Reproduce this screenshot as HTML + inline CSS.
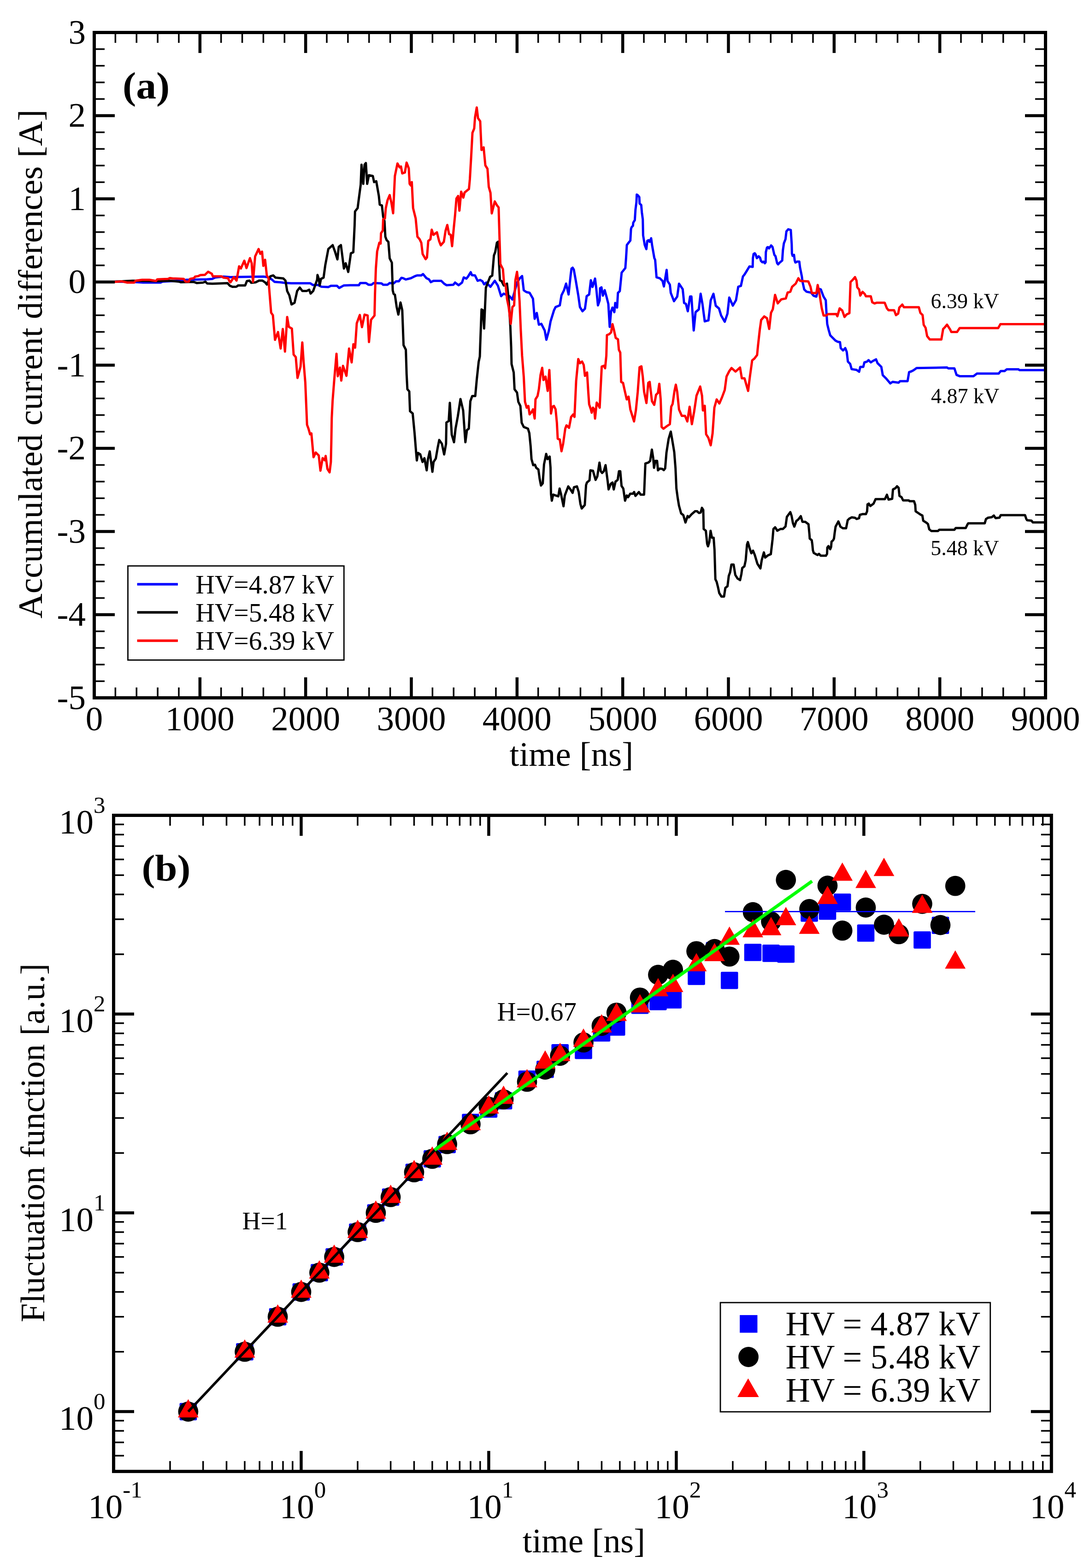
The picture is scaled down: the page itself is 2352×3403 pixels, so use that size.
<!DOCTYPE html><html><head><meta charset="utf-8"><style>html,body{margin:0;padding:0;background:#fff;}svg{display:block;}</style></head><body><svg width="2352" height="3403" viewBox="0 0 2352 3403">
<rect x="0" y="0" width="2352" height="3403" fill="#fff"/>
<path d="M249.0,611.2 L294.2,612.2 L310.3,613.2 L348.4,613.2 L352.4,611.2 L388.5,609.2 L404.5,607.2 L448.6,606.2 L460.7,605.2 L466.7,602.2 L484.7,600.2 L500.0,601.5 L571.4,600.2 L580.8,601.5 L588.3,605.3 L595.9,611.8 L609.0,612.8 L616.5,613.7 L631.6,614.7 L672.9,614.7 L678.6,618.4 L689.8,618.4 L697.4,622.2 L712.4,623.1 L718.0,620.3 L731.2,620.3 L735.9,625.0 L746.2,619.4 L760.0,618.9 L778.8,618.9 L781.6,614.2 L793.8,614.2 L799.5,617.9 L806.1,617.9 L810.8,614.2 L827.7,615.1 L831.4,617.9 L840.8,617.9 L845.5,614.2 L854.0,615.1 L859.6,610.4 L865.3,610.4 L870.9,602.9 L874.7,603.8 L880.3,606.6 L891.6,603.8 L901.0,599.1 L904.7,597.8 L914.1,597.8 L917.9,594.8 L925.4,603.8 L931.0,606.6 L934.8,612.3 L940.5,609.5 L957.4,609.5 L963.0,615.1 L968.6,618.9 L983.7,617.9 L987.4,613.2 L995.0,618.9 L1002.5,613.2 L1006.2,602.0 L1011.9,604.8 L1015.6,600.1 L1021.3,590.7 L1024.1,597.3 L1030.7,597.8 L1036.3,609.5 L1042.0,607.6 L1046.7,610.4 L1050.4,617.0 L1055.1,613.2 L1064.2,622.4 L1073.5,609.4 L1080.1,619.6 L1087.3,642.8 L1092.7,637.3 L1105.5,642.8 L1111.8,650.0 L1121.8,613.7 L1127.3,604.6 L1132.8,599.1 L1136.4,630.0 L1141.9,633.7 L1149.1,635.5 L1156.4,648.2 L1160.1,691.9 L1164.6,679.2 L1169.2,704.6 L1174.6,702.8 L1181.9,717.4 L1185.5,737.4 L1191.0,717.4 L1194.6,697.4 L1201.9,673.7 L1205.5,666.4 L1214.6,662.8 L1218.3,640.9 L1223.7,630.0 L1228.3,615.5 L1233.7,639.1 L1238.3,596.0 L1240.0,583.0 L1242.5,581.0 L1245.0,585.0 L1249.2,608.2 L1254.7,640.9 L1258.3,666.4 L1263.8,675.5 L1269.2,670.1 L1272.9,642.8 L1278.3,639.1 L1282.0,608.2 L1285.6,622.8 L1291.1,604.6 L1293.8,626.4 L1297.4,662.8 L1301.1,651.9 L1302.0,625.7 L1305.0,623.7 L1308.0,641.6 L1312.0,629.7 L1315.9,643.6 L1319.9,659.5 L1322.9,709.4 L1325.9,675.5 L1328.9,667.5 L1332.9,677.5 L1334.9,657.6 L1338.9,667.5 L1340.8,635.6 L1344.8,631.7 L1348.8,591.8 L1356.8,581.8 L1358.4,560.0 L1360.1,531.7 L1362.2,528.9 L1367.7,522.0 L1369.1,497.0 L1370.5,492.9 L1373.3,490.1 L1374.0,483.2 L1377.4,477.6 L1378.8,455.4 L1380.9,438.8 L1381.6,422.2 L1384.4,424.3 L1387.1,427.7 L1387.8,441.6 L1391.3,445.0 L1392.7,461.0 L1394.7,476.2 L1395.4,510.9 L1398.9,531.7 L1402.4,540.7 L1404.4,522.7 L1407.2,521.3 L1409.6,524.7 L1412.8,517.1 L1414.8,531.7 L1419.7,560.0 L1421.5,563.9 L1424.5,601.8 L1431.5,603.8 L1437.5,609.7 L1440.5,621.7 L1446.4,585.8 L1448.4,609.7 L1453.4,617.7 L1455.4,635.6 L1462.4,653.6 L1469.4,643.6 L1473.3,615.7 L1481.3,627.7 L1484.3,657.6 L1488.3,659.5 L1492.3,675.5 L1497.3,643.6 L1500.2,643.6 L1505.2,717.3 L1509.2,677.5 L1516.2,671.5 L1520.2,637.6 L1524.1,659.5 L1529.1,697.4 L1537.1,695.4 L1542.1,651.6 L1548.0,637.6 L1553.0,663.5 L1560.0,669.5 L1564.7,684.7 L1572.5,698.3 L1578.4,680.8 L1582.3,645.7 L1590.1,663.3 L1596.9,651.6 L1601.8,622.4 L1607.6,620.4 L1612.0,600.0 L1615.0,596.3 L1620.0,588.3 L1626.1,578.3 L1633.1,579.3 L1633.6,560.3 L1635.1,551.2 L1637.6,549.7 L1639.6,552.2 L1642.1,560.3 L1646.1,556.2 L1649.1,559.2 L1651.1,566.3 L1654.1,569.3 L1656.6,567.8 L1659.6,571.3 L1661.2,569.3 L1661.7,547.2 L1664.2,537.2 L1666.2,536.2 L1668.7,539.2 L1673.2,532.7 L1676.2,536.2 L1680.2,553.2 L1682.7,556.2 L1686.2,571.3 L1688.2,573.8 L1691.2,570.3 L1697.2,565.3 L1698.7,543.2 L1700.8,528.2 L1704.3,519.1 L1706.3,502.1 L1710.3,497.6 L1715.8,499.1 L1717.8,530.2 L1718.3,550.2 L1719.8,555.2 L1722.8,553.2 L1724.3,565.3 L1725.8,569.8 L1729.3,567.8 L1734.3,567.8 L1735.8,580.3 L1739.8,600.0 L1741.1,610.7 L1745.0,628.2 L1749.9,633.1 L1759.6,635.0 L1765.4,641.8 L1771.3,643.8 L1775.2,626.3 L1781.0,628.2 L1786.9,643.8 L1791.7,651.6 L1793.3,680.6 L1794.9,703.4 L1798.1,716.4 L1801.4,727.8 L1806.3,732.7 L1812.8,739.2 L1817.7,741.7 L1822.6,742.5 L1824.2,755.5 L1829.1,760.4 L1834.0,755.5 L1837.2,763.6 L1839.7,784.8 L1844.6,789.7 L1847.8,801.1 L1858.4,802.7 L1864.1,806.8 L1866.6,796.2 L1873.1,796.2 L1875.5,786.5 L1881.2,784.8 L1884.5,781.6 L1889.4,786.5 L1894.3,783.2 L1900.8,779.9 L1904.0,788.1 L1912.2,796.2 L1915.4,814.2 L1922.0,820.7 L1931.7,832.1 L1936.6,828.8 L1949.7,830.4 L1952.9,827.2 L1969.2,827.2 L1972.5,807.6 L1977.4,806.0 L1982.2,803.6 L1988.8,798.7 L2054.8,797.6 L2057.7,799.5 L2070.8,799.5 L2073.6,808.0 L2075.5,813.6 L2082.1,816.4 L2112.2,816.4 L2119.7,810.8 L2166.7,810.8 L2171.4,805.2 L2179.8,805.2 L2184.5,801.4 L2209.9,801.4 L2211.8,803.3 L2266.0,803.3" fill="none" stroke="#0000ff" stroke-width="5" stroke-linejoin="round" stroke-linecap="butt"/>
<path d="M249.0,611.2 L288.2,609.2 L340.4,610.2 L368.4,609.2 L388.5,611.2 L392.5,612.6 L400.5,612.2 L420.5,611.8 L426.6,614.2 L440.6,613.2 L445.6,611.2 L449.6,615.2 L460.7,615.8 L493.7,614.6 L498.7,620.2 L504.8,622.6 L512.8,622.2 L516.9,619.4 L532.0,619.4 L535.7,610.0 L541.4,609.0 L545.1,613.7 L554.5,612.8 L562.0,609.0 L569.5,609.0 L575.2,612.8 L578.9,617.5 L582.7,609.0 L586.5,599.6 L593.0,597.7 L597.7,602.4 L614.7,604.3 L619.4,609.0 L623.1,631.6 L627.8,641.0 L632.5,660.7 L639.1,657.0 L644.7,631.6 L650.4,624.1 L656.0,631.6 L665.4,631.6 L671.0,628.8 L673.9,637.2 L679.5,631.6 L688.0,607.1 L688.9,596.8 L691.7,605.3 L693.6,619.4 L696.4,605.3 L702.1,602.4 L705.8,575.2 L712.4,540.4 L721.8,532.0 L726.5,545.1 L732.1,563.0 L735.0,535.7 L739.7,532.0 L746.2,582.7 L750.0,571.4 L755.6,590.2 L761.3,549.8 L766.6,547.4 L769.4,489.2 L770.3,459.1 L776.0,451.6 L777.9,436.5 L782.6,400.8 L784.4,357.6 L788.2,399.0 L791.0,357.6 L793.8,353.8 L796.7,399.0 L800.4,380.2 L808.9,382.0 L811.7,395.2 L816.4,393.3 L822.0,425.3 L823.9,444.1 L828.6,445.9 L831.4,470.4 L834.2,479.8 L836.1,513.6 L838.9,521.1 L842.7,524.9 L845.5,560.6 L850.2,570.0 L852.1,630.2 L854.0,637.7 L856.8,639.6 L860.6,665.9 L864.3,682.8 L869.0,656.5 L872.8,673.4 L875.6,749.1 L880.6,759.0 L882.2,811.7 L883.9,844.6 L888.0,849.5 L889.6,892.3 L895.4,897.3 L899.5,940.1 L902.8,981.2 L904.4,999.3 L906.9,982.9 L911.9,986.2 L916.8,1002.6 L920.9,994.4 L925.8,1020.7 L928.3,997.7 L932.4,979.6 L938.2,1024.0 L940.7,1002.6 L945.6,995.2 L949.7,971.4 L953.0,954.9 L958.8,963.1 L963.7,986.2 L967.8,963.1 L968.6,917.0 L973.6,913.7 L976.0,874.2 L978.5,915.4 L980.2,943.4 L985.1,959.8 L988.4,930.2 L993.3,903.9 L999.1,866.0 L1004.9,890.7 L1008.1,936.8 L1009.8,959.8 L1013.1,933.5 L1017.2,930.2 L1020.5,870.9 L1024.6,859.4 L1031.2,859.4 L1034.5,823.2 L1038.6,785.3 L1041.1,773.8 L1041.9,749.1 L1044.8,671.5 L1047.6,673.4 L1050.4,712.9 L1054.2,624.5 L1059.6,610.3 L1063.3,601.0 L1068.0,598.2 L1071.7,554.4 L1074.5,547.0 L1078.2,526.5 L1081.0,524.7 L1082.9,573.1 L1084.7,608.4 L1088.4,610.3 L1093.1,619.6 L1098.7,617.7 L1100.0,615.5 L1103.7,650.0 L1107.3,708.3 L1109.1,753.8 L1110.0,790.1 L1114.6,808.3 L1116.4,844.7 L1121.8,852.0 L1124.6,872.0 L1129.1,881.1 L1131.9,917.5 L1136.4,926.6 L1145.5,930.2 L1148.5,940.0 L1151.3,968.2 L1153.2,996.4 L1156.9,1009.5 L1160.7,1008.6 L1163.5,1015.2 L1168.2,1019.0 L1171.0,1039.6 L1173.8,1053.7 L1177.6,1049.0 L1180.4,1007.7 L1185.1,985.1 L1187.9,996.4 L1192.6,990.8 L1194.5,1015.2 L1195.5,1071.6 L1197.3,1086.6 L1200.2,1073.5 L1205.8,1075.3 L1211.4,1077.2 L1214.2,1060.3 L1217.1,1071.6 L1222.7,1098.8 L1225.5,1075.3 L1228.3,1067.8 L1233.0,1055.6 L1237.7,1062.2 L1242.4,1069.7 L1245.3,1057.5 L1251.8,1055.6 L1255.6,1067.8 L1259.4,1094.1 L1262.2,1103.5 L1268.8,1096.0 L1271.6,1052.8 L1273.5,1047.1 L1279.1,1042.4 L1281.0,1020.8 L1286.6,1021.8 L1292.3,1041.5 L1296.0,1034.0 L1300.7,1003.9 L1303.5,1022.7 L1306.4,1026.5 L1310.1,1022.7 L1313.9,1009.5 L1318.6,1045.3 L1320.5,1062.2 L1325.2,1050.0 L1328.9,1047.1 L1331.7,1062.2 L1335.5,1045.3 L1340.2,1041.5 L1343.0,1022.7 L1345.8,1022.7 L1348.6,1054.7 L1352.4,1060.3 L1356.2,1086.6 L1359.9,1075.3 L1362.7,1079.1 L1367.4,1071.6 L1373.1,1071.6 L1375.9,1067.8 L1378.7,1076.3 L1386.2,1067.8 L1390.0,1073.5 L1397.5,1073.5 L1400.3,1005.8 L1406.9,1003.9 L1410.7,1000.2 L1414.4,975.7 L1417.3,994.5 L1419.1,1015.2 L1421.9,1000.2 L1425.7,1000.2 L1427.6,1020.8 L1431.4,1017.1 L1436.6,1017.5 L1440.3,1020.3 L1443.2,1016.5 L1446.0,982.7 L1450.7,952.6 L1455.4,936.7 L1458.2,952.6 L1462.9,980.8 L1465.7,1016.5 L1467.6,1059.8 L1470.4,1080.5 L1473.2,1097.4 L1477.9,1114.3 L1482.6,1118.0 L1487.3,1134.0 L1492.0,1119.9 L1494.8,1122.7 L1500.5,1116.2 L1508.0,1109.6 L1512.7,1109.6 L1516.5,1113.3 L1520.2,1112.4 L1523.0,1102.1 L1525.9,1106.8 L1526.8,1148.1 L1531.5,1151.9 L1534.3,1180.1 L1536.2,1185.7 L1539.0,1176.3 L1541.8,1151.9 L1544.7,1166.9 L1548.4,1166.9 L1550.3,1193.2 L1552.2,1257.1 L1555.0,1262.8 L1557.8,1274.1 L1560.6,1287.2 L1565.3,1294.7 L1571.0,1294.7 L1573.8,1275.9 L1578.5,1272.2 L1581.3,1249.6 L1584.1,1242.1 L1587.0,1225.2 L1591.7,1225.2 L1595.4,1247.7 L1600.1,1255.3 L1605.8,1259.0 L1608.6,1245.9 L1610.5,1232.7 L1615.2,1229.0 L1618.0,1215.8 L1620.8,1182.0 L1622.7,1176.3 L1626.4,1189.5 L1630.2,1200.8 L1633.9,1195.1 L1637.7,1204.5 L1643.3,1223.3 L1649.9,1233.6 L1652.7,1215.8 L1657.4,1198.9 L1660.3,1210.2 L1665.9,1205.5 L1672.5,1202.6 L1676.2,1170.7 L1678.1,1148.1 L1681.9,1144.4 L1686.6,1151.9 L1693.2,1148.1 L1698.8,1148.1 L1704.4,1142.5 L1707.3,1121.8 L1714.8,1111.5 L1717.6,1119.9 L1720.4,1135.0 L1723.5,1143.0 L1727.9,1130.7 L1732.3,1127.2 L1737.5,1120.2 L1741.1,1132.5 L1747.2,1132.5 L1754.2,1137.7 L1756.3,1160.0 L1756.9,1168.8 L1761.3,1172.5 L1762.6,1181.9 L1763.8,1194.5 L1765.7,1200.1 L1773.8,1204.5 L1777.0,1202.0 L1780.7,1206.1 L1792.0,1206.1 L1794.5,1202.0 L1795.1,1188.2 L1797.6,1185.1 L1801.4,1192.0 L1803.3,1186.9 L1804.2,1175.7 L1807.7,1172.5 L1809.5,1168.8 L1811.2,1155.3 L1813.0,1143.0 L1819.1,1131.6 L1823.5,1143.0 L1828.8,1146.5 L1835.8,1146.5 L1839.3,1128.9 L1842.8,1125.4 L1848.1,1122.8 L1855.1,1123.7 L1858.6,1126.3 L1863.9,1124.6 L1865.6,1117.5 L1870.9,1115.8 L1878.8,1115.8 L1881.4,1109.6 L1882.3,1094.7 L1884.9,1093.0 L1888.4,1098.2 L1895.4,1093.0 L1899.8,1083.3 L1920.0,1083.3 L1924.4,1073.7 L1927.9,1084.2 L1935.8,1082.5 L1937.5,1062.3 L1942.8,1059.6 L1946.3,1055.3 L1949.8,1058.8 L1951.6,1076.3 L1956.0,1078.9 L1959.5,1086.0 L1971.8,1086.0 L1973.5,1087.7 L1983.2,1087.7 L1985.8,1095.6 L1986.7,1109.6 L1992.0,1113.2 L1997.5,1116.9 L2001.3,1118.8 L2003.2,1130.1 L2010.7,1134.8 L2013.5,1137.6 L2016.3,1148.9 L2021.0,1152.6 L2035.1,1152.6 L2037.9,1149.8 L2070.8,1149.8 L2073.6,1146.1 L2095.3,1146.1 L2099.0,1138.5 L2100.9,1135.7 L2136.6,1135.7 L2139.4,1126.3 L2144.1,1123.5 L2151.7,1122.6 L2156.4,1118.8 L2160.1,1124.4 L2168.6,1123.5 L2171.4,1117.9 L2224.0,1117.9 L2226.8,1126.3 L2228.7,1129.1 L2238.1,1130.1 L2240.9,1133.8 L2266.0,1133.8" fill="none" stroke="#000000" stroke-width="5" stroke-linejoin="round" stroke-linecap="butt"/>
<path d="M249.1,611.8 L264.2,610.6 L276.2,613.2 L291.2,613.2 L294.2,609.2 L308.3,607.2 L324.3,607.2 L338.3,609.8 L341.4,606.2 L364.4,605.2 L368.4,603.6 L374.4,604.2 L398.5,605.2 L402.5,611.2 L409.5,611.2 L412.5,605.2 L420.5,603.8 L423.6,600.2 L430.6,599.1 L434.6,597.1 L444.6,596.5 L451.6,589.7 L459.6,594.1 L461.7,599.7 L480.7,599.7 L484.7,602.6 L494.7,603.8 L498.7,611.8 L500.0,612.8 L507.5,601.5 L513.2,609.0 L518.8,578.0 L522.6,582.7 L530.1,565.8 L534.8,581.8 L542.3,560.2 L546.1,571.4 L548.9,611.8 L553.6,556.4 L561.1,540.4 L564.8,550.8 L568.6,546.1 L571.4,577.1 L575.2,563.9 L578.9,597.7 L582.7,604.3 L583.6,620.3 L588.3,678.6 L592.1,684.2 L596.7,737.6 L603.2,720.7 L608.9,756.4 L613.6,714.1 L618.3,763.0 L623.1,688.0 L626.7,709.4 L633.3,713.2 L637.1,769.5 L641.8,775.2 L645.5,820.3 L652.1,795.9 L655.9,743.2 L658.7,784.6 L662.4,829.7 L666.2,921.8 L669.0,929.3 L672.8,942.5 L675.6,940.6 L680.3,992.3 L685.0,982.0 L691.6,988.5 L695.3,1021.4 L700.0,994.2 L704.7,998.9 L706.6,989.5 L710.4,1017.7 L715.1,1025.2 L717.9,1002.6 L718.8,963.2 L719.8,906.8 L721.7,869.2 L725.4,822.2 L730.1,767.7 L732.9,816.5 L737.6,797.7 L740.5,825.9 L744.2,794.0 L751.7,815.6 L757.4,756.4 L763.0,786.5 L766.8,747.0 L770.5,754.5 L774.1,701.6 L780.7,683.7 L785.4,710.0 L791.0,682.8 L797.6,684.7 L800.6,742.3 L805.1,694.0 L812.6,684.7 L813.6,639.6 L815.5,583.2 L818.3,545.6 L823.0,526.8 L825.8,528.6 L826.7,506.1 L830.5,500.5 L831.4,476.0 L835.2,474.1 L837.1,451.6 L840.8,434.7 L845.5,423.4 L849.3,440.3 L853.0,462.9 L856.8,382.0 L862.4,354.8 L867.1,363.2 L870.0,361.4 L872.8,376.4 L878.4,374.5 L882.2,352.9 L886.9,365.1 L888.8,398.9 L891.6,402.7 L893.5,395.2 L896.3,451.6 L901.9,474.1 L905.7,513.6 L910.4,519.2 L914.1,526.8 L917.0,551.2 L923.5,562.5 L926.4,558.7 L929.2,523.0 L933.9,519.2 L936.7,498.6 L940.5,509.8 L948.0,504.2 L952.7,523.0 L956.4,532.4 L963.0,524.9 L966.8,500.5 L970.5,488.2 L974.3,508.0 L978.0,509.8 L980.9,534.3 L984.6,494.8 L987.4,466.6 L990.3,430.9 L994.0,425.3 L996.8,457.2 L1000.6,415.9 L1005.3,429.0 L1008.1,417.7 L1017.5,410.2 L1019.5,388.7 L1022.3,340.3 L1025.1,288.2 L1028.9,278.9 L1030.7,254.7 L1034.4,233.3 L1037.2,256.5 L1041.9,263.1 L1044.7,325.4 L1049.3,319.8 L1053.1,358.9 L1057.7,366.4 L1060.5,405.5 L1064.2,418.5 L1067.0,463.2 L1069.8,452.0 L1073.5,437.1 L1078.2,445.5 L1081.9,450.2 L1083.8,515.3 L1085.6,573.1 L1091.2,584.2 L1093.6,613.7 L1097.3,620.9 L1100.0,648.2 L1103.7,666.4 L1108.2,702.8 L1111.8,666.4 L1115.5,662.8 L1118.2,608.2 L1121.8,590.0 L1124.6,613.7 L1127.3,653.7 L1130.0,717.4 L1132.8,772.0 L1136.4,817.4 L1139.1,872.0 L1142.8,884.8 L1146.4,881.1 L1149.1,899.3 L1153.7,893.9 L1156.4,888.4 L1160.1,908.4 L1161.9,866.6 L1166.4,859.3 L1169.2,844.7 L1172.8,813.8 L1176.4,798.3 L1179.2,824.7 L1183.7,817.4 L1188.3,848.4 L1191.9,802.9 L1193.7,841.1 L1195.5,897.5 L1198.3,882.9 L1201.9,881.1 L1205.5,888.4 L1208.3,917.5 L1210.1,952.1 L1214.6,953.9 L1218.3,979.4 L1221.9,963.0 L1226.5,930.2 L1229.2,923.0 L1234.7,928.4 L1239.2,904.8 L1243.8,899.3 L1246.5,904.8 L1250.1,826.5 L1254.7,779.2 L1258.3,788.3 L1262.9,784.6 L1266.5,792.0 L1269.2,815.6 L1273.8,808.3 L1276.5,852.0 L1278.3,877.5 L1282.0,888.4 L1283.8,895.7 L1286.5,884.8 L1289.3,888.4 L1291.1,908.4 L1294.7,873.8 L1299.3,881.1 L1301.1,884.8 L1305.6,795.6 L1310.2,793.8 L1312.9,799.2 L1315.6,772.0 L1316.9,727.3 L1321.9,725.3 L1325.9,721.3 L1328.9,703.4 L1331.9,715.3 L1335.9,733.3 L1340.8,736.3 L1342.8,759.2 L1345.8,765.1 L1347.8,828.9 L1351.8,830.9 L1354.8,844.8 L1359.8,866.8 L1363.8,860.8 L1367.7,888.7 L1375.7,914.6 L1379.7,890.7 L1383.7,850.8 L1387.7,797.0 L1391.7,795.0 L1394.6,816.9 L1397.6,850.8 L1402.6,874.7 L1406.6,830.9 L1409.6,828.9 L1414.6,870.7 L1419.5,878.7 L1423.5,856.8 L1427.5,852.8 L1430.5,832.9 L1433.5,866.8 L1435.5,926.5 L1439.5,930.5 L1447.4,924.5 L1453.4,920.6 L1456.4,882.7 L1459.4,876.7 L1463.4,848.8 L1466.4,834.9 L1469.4,850.8 L1473.3,888.7 L1479.3,902.6 L1486.3,902.6 L1491.3,914.6 L1496.3,882.7 L1501.2,920.6 L1506.2,892.7 L1511.2,858.8 L1519.2,838.9 L1523.2,858.8 L1525.1,890.7 L1529.1,880.7 L1532.1,942.5 L1537.1,950.4 L1542.1,966.4 L1546.1,940.5 L1550.0,884.7 L1555.0,866.8 L1560.8,875.7 L1566.7,862.0 L1572.5,846.4 L1576.4,817.2 L1582.3,805.5 L1587.2,798.7 L1595.9,806.5 L1605.7,797.7 L1609.6,821.1 L1615.4,821.1 L1619.3,834.7 L1623.2,848.4 L1627.1,817.2 L1632.0,782.1 L1636.8,778.2 L1642.7,770.4 L1644.6,751.0 L1648.5,715.9 L1651.5,694.5 L1658.3,686.7 L1664.1,690.6 L1669.0,713.9 L1672.9,678.9 L1676.8,671.1 L1681.7,639.9 L1687.5,658.4 L1695.3,649.6 L1705.0,647.7 L1708.9,635.0 L1714.8,633.1 L1718.7,622.4 L1726.5,615.5 L1732.3,603.8 L1736.2,609.7 L1753.8,610.7 L1758.6,622.4 L1761.5,636.0 L1771.3,636.0 L1774.2,618.5 L1778.1,637.9 L1783.0,669.1 L1786.9,684.7 L1792.7,684.7 L1796.6,681.8 L1814.4,681.4 L1816.9,686.3 L1821.8,669.2 L1827.5,674.0 L1832.4,687.9 L1837.2,682.2 L1843.0,679.7 L1845.4,612.1 L1850.3,607.2 L1855.2,601.5 L1858.4,608.9 L1860.0,623.5 L1864.1,628.4 L1866.6,641.5 L1871.5,633.3 L1876.3,638.2 L1878.8,643.1 L1889.4,643.1 L1892.6,656.1 L1897.5,658.6 L1902.4,656.9 L1919.5,656.9 L1924.4,669.2 L1927.7,673.2 L1939.9,673.2 L1944.0,683.8 L1948.8,680.6 L1951.3,667.5 L1957.8,661.0 L1961.1,666.7 L1993.6,666.7 L1996.9,678.9 L2001.8,683.8 L2004.2,705.0 L2008.3,711.5 L2011.6,729.4 L2017.3,736.8 L2042.5,736.8 L2046.4,714.0 L2050.2,710.2 L2054.8,704.6 L2061.4,714.9 L2064.2,720.6 L2076.5,720.6 L2082.1,712.1 L2165.8,712.1 L2170.5,703.6 L2266.0,703.6" fill="none" stroke="#ff0000" stroke-width="5" stroke-linejoin="round" stroke-linecap="butt"/>
<g stroke="#000"><line x1="250.37" y1="1514.5" x2="250.37" y2="1492.0" stroke-width="3.5"/><line x1="250.37" y1="70.5" x2="250.37" y2="93.0" stroke-width="3.5"/><line x1="296.23" y1="1514.5" x2="296.23" y2="1492.0" stroke-width="3.5"/><line x1="296.23" y1="70.5" x2="296.23" y2="93.0" stroke-width="3.5"/><line x1="342.10" y1="1514.5" x2="342.10" y2="1492.0" stroke-width="3.5"/><line x1="342.10" y1="70.5" x2="342.10" y2="93.0" stroke-width="3.5"/><line x1="387.97" y1="1514.5" x2="387.97" y2="1492.0" stroke-width="3.5"/><line x1="387.97" y1="70.5" x2="387.97" y2="93.0" stroke-width="3.5"/><line x1="433.83" y1="1514.5" x2="433.83" y2="1470.0" stroke-width="6.5"/><line x1="433.83" y1="70.5" x2="433.83" y2="115.0" stroke-width="6.5"/><line x1="479.70" y1="1514.5" x2="479.70" y2="1492.0" stroke-width="3.5"/><line x1="479.70" y1="70.5" x2="479.70" y2="93.0" stroke-width="3.5"/><line x1="525.57" y1="1514.5" x2="525.57" y2="1492.0" stroke-width="3.5"/><line x1="525.57" y1="70.5" x2="525.57" y2="93.0" stroke-width="3.5"/><line x1="571.43" y1="1514.5" x2="571.43" y2="1492.0" stroke-width="3.5"/><line x1="571.43" y1="70.5" x2="571.43" y2="93.0" stroke-width="3.5"/><line x1="617.30" y1="1514.5" x2="617.30" y2="1492.0" stroke-width="3.5"/><line x1="617.30" y1="70.5" x2="617.30" y2="93.0" stroke-width="3.5"/><line x1="663.17" y1="1514.5" x2="663.17" y2="1470.0" stroke-width="6.5"/><line x1="663.17" y1="70.5" x2="663.17" y2="115.0" stroke-width="6.5"/><line x1="709.03" y1="1514.5" x2="709.03" y2="1492.0" stroke-width="3.5"/><line x1="709.03" y1="70.5" x2="709.03" y2="93.0" stroke-width="3.5"/><line x1="754.90" y1="1514.5" x2="754.90" y2="1492.0" stroke-width="3.5"/><line x1="754.90" y1="70.5" x2="754.90" y2="93.0" stroke-width="3.5"/><line x1="800.77" y1="1514.5" x2="800.77" y2="1492.0" stroke-width="3.5"/><line x1="800.77" y1="70.5" x2="800.77" y2="93.0" stroke-width="3.5"/><line x1="846.63" y1="1514.5" x2="846.63" y2="1492.0" stroke-width="3.5"/><line x1="846.63" y1="70.5" x2="846.63" y2="93.0" stroke-width="3.5"/><line x1="892.50" y1="1514.5" x2="892.50" y2="1470.0" stroke-width="6.5"/><line x1="892.50" y1="70.5" x2="892.50" y2="115.0" stroke-width="6.5"/><line x1="938.37" y1="1514.5" x2="938.37" y2="1492.0" stroke-width="3.5"/><line x1="938.37" y1="70.5" x2="938.37" y2="93.0" stroke-width="3.5"/><line x1="984.23" y1="1514.5" x2="984.23" y2="1492.0" stroke-width="3.5"/><line x1="984.23" y1="70.5" x2="984.23" y2="93.0" stroke-width="3.5"/><line x1="1030.10" y1="1514.5" x2="1030.10" y2="1492.0" stroke-width="3.5"/><line x1="1030.10" y1="70.5" x2="1030.10" y2="93.0" stroke-width="3.5"/><line x1="1075.97" y1="1514.5" x2="1075.97" y2="1492.0" stroke-width="3.5"/><line x1="1075.97" y1="70.5" x2="1075.97" y2="93.0" stroke-width="3.5"/><line x1="1121.83" y1="1514.5" x2="1121.83" y2="1470.0" stroke-width="6.5"/><line x1="1121.83" y1="70.5" x2="1121.83" y2="115.0" stroke-width="6.5"/><line x1="1167.70" y1="1514.5" x2="1167.70" y2="1492.0" stroke-width="3.5"/><line x1="1167.70" y1="70.5" x2="1167.70" y2="93.0" stroke-width="3.5"/><line x1="1213.57" y1="1514.5" x2="1213.57" y2="1492.0" stroke-width="3.5"/><line x1="1213.57" y1="70.5" x2="1213.57" y2="93.0" stroke-width="3.5"/><line x1="1259.43" y1="1514.5" x2="1259.43" y2="1492.0" stroke-width="3.5"/><line x1="1259.43" y1="70.5" x2="1259.43" y2="93.0" stroke-width="3.5"/><line x1="1305.30" y1="1514.5" x2="1305.30" y2="1492.0" stroke-width="3.5"/><line x1="1305.30" y1="70.5" x2="1305.30" y2="93.0" stroke-width="3.5"/><line x1="1351.17" y1="1514.5" x2="1351.17" y2="1470.0" stroke-width="6.5"/><line x1="1351.17" y1="70.5" x2="1351.17" y2="115.0" stroke-width="6.5"/><line x1="1397.03" y1="1514.5" x2="1397.03" y2="1492.0" stroke-width="3.5"/><line x1="1397.03" y1="70.5" x2="1397.03" y2="93.0" stroke-width="3.5"/><line x1="1442.90" y1="1514.5" x2="1442.90" y2="1492.0" stroke-width="3.5"/><line x1="1442.90" y1="70.5" x2="1442.90" y2="93.0" stroke-width="3.5"/><line x1="1488.77" y1="1514.5" x2="1488.77" y2="1492.0" stroke-width="3.5"/><line x1="1488.77" y1="70.5" x2="1488.77" y2="93.0" stroke-width="3.5"/><line x1="1534.63" y1="1514.5" x2="1534.63" y2="1492.0" stroke-width="3.5"/><line x1="1534.63" y1="70.5" x2="1534.63" y2="93.0" stroke-width="3.5"/><line x1="1580.50" y1="1514.5" x2="1580.50" y2="1470.0" stroke-width="6.5"/><line x1="1580.50" y1="70.5" x2="1580.50" y2="115.0" stroke-width="6.5"/><line x1="1626.37" y1="1514.5" x2="1626.37" y2="1492.0" stroke-width="3.5"/><line x1="1626.37" y1="70.5" x2="1626.37" y2="93.0" stroke-width="3.5"/><line x1="1672.23" y1="1514.5" x2="1672.23" y2="1492.0" stroke-width="3.5"/><line x1="1672.23" y1="70.5" x2="1672.23" y2="93.0" stroke-width="3.5"/><line x1="1718.10" y1="1514.5" x2="1718.10" y2="1492.0" stroke-width="3.5"/><line x1="1718.10" y1="70.5" x2="1718.10" y2="93.0" stroke-width="3.5"/><line x1="1763.97" y1="1514.5" x2="1763.97" y2="1492.0" stroke-width="3.5"/><line x1="1763.97" y1="70.5" x2="1763.97" y2="93.0" stroke-width="3.5"/><line x1="1809.83" y1="1514.5" x2="1809.83" y2="1470.0" stroke-width="6.5"/><line x1="1809.83" y1="70.5" x2="1809.83" y2="115.0" stroke-width="6.5"/><line x1="1855.70" y1="1514.5" x2="1855.70" y2="1492.0" stroke-width="3.5"/><line x1="1855.70" y1="70.5" x2="1855.70" y2="93.0" stroke-width="3.5"/><line x1="1901.57" y1="1514.5" x2="1901.57" y2="1492.0" stroke-width="3.5"/><line x1="1901.57" y1="70.5" x2="1901.57" y2="93.0" stroke-width="3.5"/><line x1="1947.43" y1="1514.5" x2="1947.43" y2="1492.0" stroke-width="3.5"/><line x1="1947.43" y1="70.5" x2="1947.43" y2="93.0" stroke-width="3.5"/><line x1="1993.30" y1="1514.5" x2="1993.30" y2="1492.0" stroke-width="3.5"/><line x1="1993.30" y1="70.5" x2="1993.30" y2="93.0" stroke-width="3.5"/><line x1="2039.17" y1="1514.5" x2="2039.17" y2="1470.0" stroke-width="6.5"/><line x1="2039.17" y1="70.5" x2="2039.17" y2="115.0" stroke-width="6.5"/><line x1="2085.03" y1="1514.5" x2="2085.03" y2="1492.0" stroke-width="3.5"/><line x1="2085.03" y1="70.5" x2="2085.03" y2="93.0" stroke-width="3.5"/><line x1="2130.90" y1="1514.5" x2="2130.90" y2="1492.0" stroke-width="3.5"/><line x1="2130.90" y1="70.5" x2="2130.90" y2="93.0" stroke-width="3.5"/><line x1="2176.77" y1="1514.5" x2="2176.77" y2="1492.0" stroke-width="3.5"/><line x1="2176.77" y1="70.5" x2="2176.77" y2="93.0" stroke-width="3.5"/><line x1="2222.63" y1="1514.5" x2="2222.63" y2="1492.0" stroke-width="3.5"/><line x1="2222.63" y1="70.5" x2="2222.63" y2="93.0" stroke-width="3.5"/><line x1="204.5" y1="106.60" x2="227.0" y2="106.60" stroke-width="3.5"/><line x1="2268.5" y1="106.60" x2="2246.0" y2="106.60" stroke-width="3.5"/><line x1="204.5" y1="142.70" x2="227.0" y2="142.70" stroke-width="3.5"/><line x1="2268.5" y1="142.70" x2="2246.0" y2="142.70" stroke-width="3.5"/><line x1="204.5" y1="178.80" x2="227.0" y2="178.80" stroke-width="3.5"/><line x1="2268.5" y1="178.80" x2="2246.0" y2="178.80" stroke-width="3.5"/><line x1="204.5" y1="214.90" x2="227.0" y2="214.90" stroke-width="3.5"/><line x1="2268.5" y1="214.90" x2="2246.0" y2="214.90" stroke-width="3.5"/><line x1="204.5" y1="251.00" x2="249.0" y2="251.00" stroke-width="6.5"/><line x1="2268.5" y1="251.00" x2="2224.0" y2="251.00" stroke-width="6.5"/><line x1="204.5" y1="287.10" x2="227.0" y2="287.10" stroke-width="3.5"/><line x1="2268.5" y1="287.10" x2="2246.0" y2="287.10" stroke-width="3.5"/><line x1="204.5" y1="323.20" x2="227.0" y2="323.20" stroke-width="3.5"/><line x1="2268.5" y1="323.20" x2="2246.0" y2="323.20" stroke-width="3.5"/><line x1="204.5" y1="359.30" x2="227.0" y2="359.30" stroke-width="3.5"/><line x1="2268.5" y1="359.30" x2="2246.0" y2="359.30" stroke-width="3.5"/><line x1="204.5" y1="395.40" x2="227.0" y2="395.40" stroke-width="3.5"/><line x1="2268.5" y1="395.40" x2="2246.0" y2="395.40" stroke-width="3.5"/><line x1="204.5" y1="431.50" x2="249.0" y2="431.50" stroke-width="6.5"/><line x1="2268.5" y1="431.50" x2="2224.0" y2="431.50" stroke-width="6.5"/><line x1="204.5" y1="467.60" x2="227.0" y2="467.60" stroke-width="3.5"/><line x1="2268.5" y1="467.60" x2="2246.0" y2="467.60" stroke-width="3.5"/><line x1="204.5" y1="503.70" x2="227.0" y2="503.70" stroke-width="3.5"/><line x1="2268.5" y1="503.70" x2="2246.0" y2="503.70" stroke-width="3.5"/><line x1="204.5" y1="539.80" x2="227.0" y2="539.80" stroke-width="3.5"/><line x1="2268.5" y1="539.80" x2="2246.0" y2="539.80" stroke-width="3.5"/><line x1="204.5" y1="575.90" x2="227.0" y2="575.90" stroke-width="3.5"/><line x1="2268.5" y1="575.90" x2="2246.0" y2="575.90" stroke-width="3.5"/><line x1="204.5" y1="612.00" x2="249.0" y2="612.00" stroke-width="6.5"/><line x1="2268.5" y1="612.00" x2="2224.0" y2="612.00" stroke-width="6.5"/><line x1="204.5" y1="648.10" x2="227.0" y2="648.10" stroke-width="3.5"/><line x1="2268.5" y1="648.10" x2="2246.0" y2="648.10" stroke-width="3.5"/><line x1="204.5" y1="684.20" x2="227.0" y2="684.20" stroke-width="3.5"/><line x1="2268.5" y1="684.20" x2="2246.0" y2="684.20" stroke-width="3.5"/><line x1="204.5" y1="720.30" x2="227.0" y2="720.30" stroke-width="3.5"/><line x1="2268.5" y1="720.30" x2="2246.0" y2="720.30" stroke-width="3.5"/><line x1="204.5" y1="756.40" x2="227.0" y2="756.40" stroke-width="3.5"/><line x1="2268.5" y1="756.40" x2="2246.0" y2="756.40" stroke-width="3.5"/><line x1="204.5" y1="792.50" x2="249.0" y2="792.50" stroke-width="6.5"/><line x1="2268.5" y1="792.50" x2="2224.0" y2="792.50" stroke-width="6.5"/><line x1="204.5" y1="828.60" x2="227.0" y2="828.60" stroke-width="3.5"/><line x1="2268.5" y1="828.60" x2="2246.0" y2="828.60" stroke-width="3.5"/><line x1="204.5" y1="864.70" x2="227.0" y2="864.70" stroke-width="3.5"/><line x1="2268.5" y1="864.70" x2="2246.0" y2="864.70" stroke-width="3.5"/><line x1="204.5" y1="900.80" x2="227.0" y2="900.80" stroke-width="3.5"/><line x1="2268.5" y1="900.80" x2="2246.0" y2="900.80" stroke-width="3.5"/><line x1="204.5" y1="936.90" x2="227.0" y2="936.90" stroke-width="3.5"/><line x1="2268.5" y1="936.90" x2="2246.0" y2="936.90" stroke-width="3.5"/><line x1="204.5" y1="973.00" x2="249.0" y2="973.00" stroke-width="6.5"/><line x1="2268.5" y1="973.00" x2="2224.0" y2="973.00" stroke-width="6.5"/><line x1="204.5" y1="1009.10" x2="227.0" y2="1009.10" stroke-width="3.5"/><line x1="2268.5" y1="1009.10" x2="2246.0" y2="1009.10" stroke-width="3.5"/><line x1="204.5" y1="1045.20" x2="227.0" y2="1045.20" stroke-width="3.5"/><line x1="2268.5" y1="1045.20" x2="2246.0" y2="1045.20" stroke-width="3.5"/><line x1="204.5" y1="1081.30" x2="227.0" y2="1081.30" stroke-width="3.5"/><line x1="2268.5" y1="1081.30" x2="2246.0" y2="1081.30" stroke-width="3.5"/><line x1="204.5" y1="1117.40" x2="227.0" y2="1117.40" stroke-width="3.5"/><line x1="2268.5" y1="1117.40" x2="2246.0" y2="1117.40" stroke-width="3.5"/><line x1="204.5" y1="1153.50" x2="249.0" y2="1153.50" stroke-width="6.5"/><line x1="2268.5" y1="1153.50" x2="2224.0" y2="1153.50" stroke-width="6.5"/><line x1="204.5" y1="1189.60" x2="227.0" y2="1189.60" stroke-width="3.5"/><line x1="2268.5" y1="1189.60" x2="2246.0" y2="1189.60" stroke-width="3.5"/><line x1="204.5" y1="1225.70" x2="227.0" y2="1225.70" stroke-width="3.5"/><line x1="2268.5" y1="1225.70" x2="2246.0" y2="1225.70" stroke-width="3.5"/><line x1="204.5" y1="1261.80" x2="227.0" y2="1261.80" stroke-width="3.5"/><line x1="2268.5" y1="1261.80" x2="2246.0" y2="1261.80" stroke-width="3.5"/><line x1="204.5" y1="1297.90" x2="227.0" y2="1297.90" stroke-width="3.5"/><line x1="2268.5" y1="1297.90" x2="2246.0" y2="1297.90" stroke-width="3.5"/><line x1="204.5" y1="1334.00" x2="249.0" y2="1334.00" stroke-width="6.5"/><line x1="2268.5" y1="1334.00" x2="2224.0" y2="1334.00" stroke-width="6.5"/><line x1="204.5" y1="1370.10" x2="227.0" y2="1370.10" stroke-width="3.5"/><line x1="2268.5" y1="1370.10" x2="2246.0" y2="1370.10" stroke-width="3.5"/><line x1="204.5" y1="1406.20" x2="227.0" y2="1406.20" stroke-width="3.5"/><line x1="2268.5" y1="1406.20" x2="2246.0" y2="1406.20" stroke-width="3.5"/><line x1="204.5" y1="1442.30" x2="227.0" y2="1442.30" stroke-width="3.5"/><line x1="2268.5" y1="1442.30" x2="2246.0" y2="1442.30" stroke-width="3.5"/><line x1="204.5" y1="1478.40" x2="227.0" y2="1478.40" stroke-width="3.5"/><line x1="2268.5" y1="1478.40" x2="2246.0" y2="1478.40" stroke-width="3.5"/></g>
<rect x="204.5" y="70.5" width="2064.0" height="1444.0" fill="none" stroke="#000" stroke-width="7"/>
<g font-family="Liberation Serif, serif" font-size="75"><text x="186" y="1538.5" text-anchor="end">-5</text><text x="186" y="1358.0" text-anchor="end">-4</text><text x="186" y="1177.5" text-anchor="end">-3</text><text x="186" y="997.0" text-anchor="end">-2</text><text x="186" y="816.5" text-anchor="end">-1</text><text x="186" y="636.0" text-anchor="end">0</text><text x="186" y="455.5" text-anchor="end">1</text><text x="186" y="275.0" text-anchor="end">2</text><text x="186" y="94.5" text-anchor="end">3</text><text x="204.5" y="1585" text-anchor="middle">0</text><text x="433.8" y="1585" text-anchor="middle">1000</text><text x="663.2" y="1585" text-anchor="middle">2000</text><text x="892.5" y="1585" text-anchor="middle">3000</text><text x="1121.8" y="1585" text-anchor="middle">4000</text><text x="1351.2" y="1585" text-anchor="middle">5000</text><text x="1580.5" y="1585" text-anchor="middle">6000</text><text x="1809.8" y="1585" text-anchor="middle">7000</text><text x="2039.2" y="1585" text-anchor="middle">8000</text><text x="2268.5" y="1585" text-anchor="middle">9000</text></g>
<text font-family="Liberation Serif, serif" font-size="75" x="1239.9" y="1662" text-anchor="middle">time [ns]</text>
<text font-family="Liberation Serif, serif" font-size="75" transform="translate(91,790.0) rotate(-90)" text-anchor="middle">Accumulated current differences [A]</text>
<text font-family="Liberation Serif, serif" font-size="84" font-weight="bold" transform="translate(266,213.8) scale(1.045,0.975)">(a)</text>
<g font-family="Liberation Serif, serif" font-size="46"><text x="2019.6" y="668.5">6.39 kV</text><text x="2020.1" y="874.7">4.87 kV</text><text x="2019.3" y="1204.9">5.48 kV</text></g>
<rect x="277.5" y="1228.2" width="468.8" height="204.3" fill="#fff" stroke="#000" stroke-width="2.8"/>
<line x1="297.6" y1="1268" x2="385.9" y2="1268" stroke="#0000ff" stroke-width="5.5"/>
<line x1="297.6" y1="1329" x2="385.9" y2="1329" stroke="#000" stroke-width="5.5"/>
<line x1="297.6" y1="1390.5" x2="385.9" y2="1390.5" stroke="#ff0000" stroke-width="5.5"/>
<g font-family="Liberation Serif, serif" font-size="57.5"><text x="424.3" y="1287.7">HV=4.87 kV</text><text x="424.3" y="1348.8">HV=5.48 kV</text><text x="424.3" y="1409.9">HV=6.39 kV</text></g>
<g fill="#0000ff"><rect x="389.6" y="3044.8" width="37.6" height="37.6" rx="2.5"/><rect x="512.2" y="2914.9" width="37.6" height="37.6" rx="2.5"/><rect x="583.8" y="2838.9" width="37.6" height="37.6" rx="2.5"/><rect x="634.7" y="2785.1" width="37.6" height="37.6" rx="2.5"/><rect x="674.1" y="2743.2" width="37.6" height="37.6" rx="2.5"/><rect x="706.3" y="2709.1" width="37.6" height="37.6" rx="2.5"/><rect x="757.2" y="2655.2" width="37.6" height="37.6" rx="2.5"/><rect x="796.6" y="2613.4" width="37.6" height="37.6" rx="2.5"/><rect x="828.8" y="2579.2" width="37.6" height="37.6" rx="2.5"/><rect x="879.7" y="2525.4" width="37.6" height="37.6" rx="2.5"/><rect x="919.1" y="2496.2" width="37.6" height="37.6" rx="2.5"/><rect x="951.3" y="2465.2" width="37.6" height="37.6" rx="2.5"/><rect x="1002.2" y="2417.2" width="37.6" height="37.6" rx="2.5"/><rect x="1041.6" y="2388.2" width="37.6" height="37.6" rx="2.5"/><rect x="1073.8" y="2370.2" width="37.6" height="37.6" rx="2.5"/><rect x="1124.7" y="2323.2" width="37.6" height="37.6" rx="2.5"/><rect x="1164.1" y="2301.9" width="37.6" height="37.6" rx="2.5"/><rect x="1196.4" y="2266.0" width="37.6" height="37.6" rx="2.5"/><rect x="1247.2" y="2261.0" width="37.6" height="37.6" rx="2.5"/><rect x="1286.6" y="2222.9" width="37.6" height="37.6" rx="2.5"/><rect x="1318.9" y="2210.2" width="37.6" height="37.6" rx="2.5"/><rect x="1369.7" y="2162.8" width="37.6" height="37.6" rx="2.5"/><rect x="1409.1" y="2155.0" width="37.6" height="37.6" rx="2.5"/><rect x="1441.4" y="2151.2" width="37.6" height="37.6" rx="2.5"/><rect x="1492.2" y="2100.2" width="37.6" height="37.6" rx="2.5"/><rect x="1531.6" y="2044.2" width="37.6" height="37.6" rx="2.5"/><rect x="1563.9" y="2108.9" width="37.6" height="37.6" rx="2.5"/><rect x="1614.7" y="2048.2" width="37.6" height="37.6" rx="2.5"/><rect x="1654.2" y="2050.1" width="37.6" height="37.6" rx="2.5"/><rect x="1686.4" y="2051.8" width="37.6" height="37.6" rx="2.5"/><rect x="1737.2" y="1962.8" width="37.6" height="37.6" rx="2.5"/><rect x="1776.7" y="1958.6" width="37.6" height="37.6" rx="2.5"/><rect x="1808.9" y="1939.2" width="37.6" height="37.6" rx="2.5"/><rect x="1859.7" y="2006.2" width="37.6" height="37.6" rx="2.5"/><rect x="1982.2" y="2021.2" width="37.6" height="37.6" rx="2.5"/><rect x="2021.7" y="1989.4" width="37.6" height="37.6" rx="2.5"/></g>
<g fill="#000"><circle cx="408.4" cy="3063.6" r="21.85"/><circle cx="531.0" cy="2933.7" r="21.85"/><circle cx="602.6" cy="2857.7" r="21.85"/><circle cx="653.5" cy="2803.9" r="21.85"/><circle cx="692.9" cy="2762.0" r="21.85"/><circle cx="725.1" cy="2727.9" r="21.85"/><circle cx="776.0" cy="2674.0" r="21.85"/><circle cx="815.4" cy="2632.2" r="21.85"/><circle cx="847.6" cy="2598.0" r="21.85"/><circle cx="898.5" cy="2544.2" r="21.85"/><circle cx="937.9" cy="2515.0" r="21.85"/><circle cx="970.1" cy="2483.0" r="21.85"/><circle cx="1021.0" cy="2440.0" r="21.85"/><circle cx="1060.4" cy="2402.0" r="21.85"/><circle cx="1092.6" cy="2386.0" r="21.85"/><circle cx="1143.5" cy="2347.7" r="21.85"/><circle cx="1182.9" cy="2321.4" r="21.85"/><circle cx="1215.2" cy="2291.3" r="21.85"/><circle cx="1266.0" cy="2262.5" r="21.85"/><circle cx="1305.4" cy="2226.4" r="21.85"/><circle cx="1337.7" cy="2197.8" r="21.85"/><circle cx="1388.5" cy="2165.0" r="21.85"/><circle cx="1427.9" cy="2115.6" r="21.85"/><circle cx="1460.2" cy="2104.7" r="21.85"/><circle cx="1511.0" cy="2064.3" r="21.85"/><circle cx="1550.4" cy="2059.6" r="21.85"/><circle cx="1582.7" cy="2076.0" r="21.85"/><circle cx="1633.5" cy="1979.6" r="21.85"/><circle cx="1673.0" cy="1999.9" r="21.85"/><circle cx="1705.2" cy="1909.7" r="21.85"/><circle cx="1756.0" cy="1972.9" r="21.85"/><circle cx="1795.5" cy="1922.2" r="21.85"/><circle cx="1827.7" cy="2019.7" r="21.85"/><circle cx="1878.5" cy="1969.6" r="21.85"/><circle cx="1918.0" cy="2006.9" r="21.85"/><circle cx="1950.2" cy="2027.5" r="21.85"/><circle cx="2001.0" cy="1961.6" r="21.85"/><circle cx="2040.5" cy="2007.6" r="21.85"/><circle cx="2072.7" cy="1922.7" r="21.85"/></g>
<line x1="1573" y1="1978.4" x2="2116" y2="1978.4" stroke="#0000ff" stroke-width="2.8"/>
<g fill="#ff0000"><polygon points="408.4,3036.6 386.0,3076.3 430.8,3076.3"/><polygon points="531.0,2906.7 508.6,2946.4 553.4,2946.4"/><polygon points="602.6,2830.7 580.2,2870.4 625.0,2870.4"/><polygon points="653.5,2776.9 631.1,2816.6 675.9,2816.6"/><polygon points="692.9,2735.0 670.5,2774.7 715.3,2774.7"/><polygon points="725.1,2700.9 702.7,2740.6 747.5,2740.6"/><polygon points="776.0,2647.0 753.6,2686.7 798.4,2686.7"/><polygon points="815.4,2605.2 793.0,2644.9 837.8,2644.9"/><polygon points="847.6,2571.0 825.2,2610.7 870.0,2610.7"/><polygon points="898.5,2517.2 876.1,2556.9 920.9,2556.9"/><polygon points="937.9,2488.0 915.5,2527.7 960.3,2527.7"/><polygon points="970.1,2456.0 947.7,2495.7 992.5,2495.7"/><polygon points="1021.0,2413.0 998.6,2452.7 1043.4,2452.7"/><polygon points="1060.4,2377.0 1038.0,2416.7 1082.8,2416.7"/><polygon points="1092.6,2356.0 1070.2,2395.7 1115.0,2395.7"/><polygon points="1143.5,2320.0 1121.1,2359.7 1165.9,2359.7"/><polygon points="1182.9,2279.6 1160.5,2319.3 1205.3,2319.3"/><polygon points="1215.2,2263.0 1192.8,2302.7 1237.6,2302.7"/><polygon points="1266.0,2232.0 1243.6,2271.7 1288.4,2271.7"/><polygon points="1305.4,2201.0 1283.0,2240.7 1327.8,2240.7"/><polygon points="1337.7,2176.0 1315.3,2215.7 1360.1,2215.7"/><polygon points="1388.5,2157.6 1366.1,2197.3 1410.9,2197.3"/><polygon points="1427.9,2122.5 1405.5,2162.2 1450.3,2162.2"/><polygon points="1460.2,2113.2 1437.8,2152.9 1482.6,2152.9"/><polygon points="1511.0,2068.4 1488.6,2108.1 1533.4,2108.1"/><polygon points="1550.4,2046.4 1528.0,2086.1 1572.8,2086.1"/><polygon points="1582.7,2010.8 1560.3,2050.5 1605.1,2050.5"/><polygon points="1633.5,1994.5 1611.1,2034.2 1655.9,2034.2"/><polygon points="1673.0,1990.0 1650.6,2029.7 1695.4,2029.7"/><polygon points="1705.2,1968.2 1682.8,2007.9 1727.6,2007.9"/><polygon points="1756.0,1987.0 1733.6,2026.7 1778.4,2026.7"/><polygon points="1795.5,1922.3 1773.1,1962.0 1817.9,1962.0"/><polygon points="1827.7,1871.7 1805.3,1911.4 1850.1,1911.4"/><polygon points="1878.5,1887.5 1856.1,1927.2 1900.9,1927.2"/><polygon points="1918.0,1861.6 1895.6,1901.3 1940.4,1901.3"/><polygon points="1950.2,1992.8 1927.8,2032.5 1972.6,2032.5"/><polygon points="2001.0,1941.5 1978.6,1981.2 2023.4,1981.2"/><polygon points="2072.7,2062.5 2050.3,2102.2 2095.1,2102.2"/></g>
<line x1="408.4" y1="3063.6" x2="1100.8" y2="2328.6" stroke="#000" stroke-width="5.5"/>
<line x1="942.9" y1="2495.8" x2="1762" y2="1912.3" stroke="#00ff00" stroke-width="7"/>
<g stroke="#000"><line x1="369.01" y1="3193.4" x2="369.01" y2="3170.9" stroke-width="3.5"/><line x1="369.01" y1="1769.5" x2="369.01" y2="1792.0" stroke-width="3.5"/><line x1="440.67" y1="3193.4" x2="440.67" y2="3170.9" stroke-width="3.5"/><line x1="440.67" y1="1769.5" x2="440.67" y2="1792.0" stroke-width="3.5"/><line x1="491.51" y1="3193.4" x2="491.51" y2="3170.9" stroke-width="3.5"/><line x1="491.51" y1="1769.5" x2="491.51" y2="1792.0" stroke-width="3.5"/><line x1="530.95" y1="3193.4" x2="530.95" y2="3170.9" stroke-width="3.5"/><line x1="530.95" y1="1769.5" x2="530.95" y2="1792.0" stroke-width="3.5"/><line x1="563.18" y1="3193.4" x2="563.18" y2="3170.9" stroke-width="3.5"/><line x1="563.18" y1="1769.5" x2="563.18" y2="1792.0" stroke-width="3.5"/><line x1="590.42" y1="3193.4" x2="590.42" y2="3170.9" stroke-width="3.5"/><line x1="590.42" y1="1769.5" x2="590.42" y2="1792.0" stroke-width="3.5"/><line x1="614.02" y1="3193.4" x2="614.02" y2="3170.9" stroke-width="3.5"/><line x1="614.02" y1="1769.5" x2="614.02" y2="1792.0" stroke-width="3.5"/><line x1="634.84" y1="3193.4" x2="634.84" y2="3170.9" stroke-width="3.5"/><line x1="634.84" y1="1769.5" x2="634.84" y2="1792.0" stroke-width="3.5"/><line x1="653.46" y1="3193.4" x2="653.46" y2="3148.9" stroke-width="6.5"/><line x1="653.46" y1="1769.5" x2="653.46" y2="1814.0" stroke-width="6.5"/><line x1="775.97" y1="3193.4" x2="775.97" y2="3170.9" stroke-width="3.5"/><line x1="775.97" y1="1769.5" x2="775.97" y2="1792.0" stroke-width="3.5"/><line x1="847.63" y1="3193.4" x2="847.63" y2="3170.9" stroke-width="3.5"/><line x1="847.63" y1="1769.5" x2="847.63" y2="1792.0" stroke-width="3.5"/><line x1="898.47" y1="3193.4" x2="898.47" y2="3170.9" stroke-width="3.5"/><line x1="898.47" y1="1769.5" x2="898.47" y2="1792.0" stroke-width="3.5"/><line x1="937.91" y1="3193.4" x2="937.91" y2="3170.9" stroke-width="3.5"/><line x1="937.91" y1="1769.5" x2="937.91" y2="1792.0" stroke-width="3.5"/><line x1="970.14" y1="3193.4" x2="970.14" y2="3170.9" stroke-width="3.5"/><line x1="970.14" y1="1769.5" x2="970.14" y2="1792.0" stroke-width="3.5"/><line x1="997.38" y1="3193.4" x2="997.38" y2="3170.9" stroke-width="3.5"/><line x1="997.38" y1="1769.5" x2="997.38" y2="1792.0" stroke-width="3.5"/><line x1="1020.98" y1="3193.4" x2="1020.98" y2="3170.9" stroke-width="3.5"/><line x1="1020.98" y1="1769.5" x2="1020.98" y2="1792.0" stroke-width="3.5"/><line x1="1041.80" y1="3193.4" x2="1041.80" y2="3170.9" stroke-width="3.5"/><line x1="1041.80" y1="1769.5" x2="1041.80" y2="1792.0" stroke-width="3.5"/><line x1="1060.42" y1="3193.4" x2="1060.42" y2="3148.9" stroke-width="6.5"/><line x1="1060.42" y1="1769.5" x2="1060.42" y2="1814.0" stroke-width="6.5"/><line x1="1182.93" y1="3193.4" x2="1182.93" y2="3170.9" stroke-width="3.5"/><line x1="1182.93" y1="1769.5" x2="1182.93" y2="1792.0" stroke-width="3.5"/><line x1="1254.59" y1="3193.4" x2="1254.59" y2="3170.9" stroke-width="3.5"/><line x1="1254.59" y1="1769.5" x2="1254.59" y2="1792.0" stroke-width="3.5"/><line x1="1305.43" y1="3193.4" x2="1305.43" y2="3170.9" stroke-width="3.5"/><line x1="1305.43" y1="1769.5" x2="1305.43" y2="1792.0" stroke-width="3.5"/><line x1="1344.87" y1="3193.4" x2="1344.87" y2="3170.9" stroke-width="3.5"/><line x1="1344.87" y1="1769.5" x2="1344.87" y2="1792.0" stroke-width="3.5"/><line x1="1377.10" y1="3193.4" x2="1377.10" y2="3170.9" stroke-width="3.5"/><line x1="1377.10" y1="1769.5" x2="1377.10" y2="1792.0" stroke-width="3.5"/><line x1="1404.34" y1="3193.4" x2="1404.34" y2="3170.9" stroke-width="3.5"/><line x1="1404.34" y1="1769.5" x2="1404.34" y2="1792.0" stroke-width="3.5"/><line x1="1427.94" y1="3193.4" x2="1427.94" y2="3170.9" stroke-width="3.5"/><line x1="1427.94" y1="1769.5" x2="1427.94" y2="1792.0" stroke-width="3.5"/><line x1="1448.76" y1="3193.4" x2="1448.76" y2="3170.9" stroke-width="3.5"/><line x1="1448.76" y1="1769.5" x2="1448.76" y2="1792.0" stroke-width="3.5"/><line x1="1467.38" y1="3193.4" x2="1467.38" y2="3148.9" stroke-width="6.5"/><line x1="1467.38" y1="1769.5" x2="1467.38" y2="1814.0" stroke-width="6.5"/><line x1="1589.89" y1="3193.4" x2="1589.89" y2="3170.9" stroke-width="3.5"/><line x1="1589.89" y1="1769.5" x2="1589.89" y2="1792.0" stroke-width="3.5"/><line x1="1661.55" y1="3193.4" x2="1661.55" y2="3170.9" stroke-width="3.5"/><line x1="1661.55" y1="1769.5" x2="1661.55" y2="1792.0" stroke-width="3.5"/><line x1="1712.39" y1="3193.4" x2="1712.39" y2="3170.9" stroke-width="3.5"/><line x1="1712.39" y1="1769.5" x2="1712.39" y2="1792.0" stroke-width="3.5"/><line x1="1751.83" y1="3193.4" x2="1751.83" y2="3170.9" stroke-width="3.5"/><line x1="1751.83" y1="1769.5" x2="1751.83" y2="1792.0" stroke-width="3.5"/><line x1="1784.06" y1="3193.4" x2="1784.06" y2="3170.9" stroke-width="3.5"/><line x1="1784.06" y1="1769.5" x2="1784.06" y2="1792.0" stroke-width="3.5"/><line x1="1811.30" y1="3193.4" x2="1811.30" y2="3170.9" stroke-width="3.5"/><line x1="1811.30" y1="1769.5" x2="1811.30" y2="1792.0" stroke-width="3.5"/><line x1="1834.90" y1="3193.4" x2="1834.90" y2="3170.9" stroke-width="3.5"/><line x1="1834.90" y1="1769.5" x2="1834.90" y2="1792.0" stroke-width="3.5"/><line x1="1855.72" y1="3193.4" x2="1855.72" y2="3170.9" stroke-width="3.5"/><line x1="1855.72" y1="1769.5" x2="1855.72" y2="1792.0" stroke-width="3.5"/><line x1="1874.34" y1="3193.4" x2="1874.34" y2="3148.9" stroke-width="6.5"/><line x1="1874.34" y1="1769.5" x2="1874.34" y2="1814.0" stroke-width="6.5"/><line x1="1996.85" y1="3193.4" x2="1996.85" y2="3170.9" stroke-width="3.5"/><line x1="1996.85" y1="1769.5" x2="1996.85" y2="1792.0" stroke-width="3.5"/><line x1="2068.51" y1="3193.4" x2="2068.51" y2="3170.9" stroke-width="3.5"/><line x1="2068.51" y1="1769.5" x2="2068.51" y2="1792.0" stroke-width="3.5"/><line x1="2119.35" y1="3193.4" x2="2119.35" y2="3170.9" stroke-width="3.5"/><line x1="2119.35" y1="1769.5" x2="2119.35" y2="1792.0" stroke-width="3.5"/><line x1="2158.79" y1="3193.4" x2="2158.79" y2="3170.9" stroke-width="3.5"/><line x1="2158.79" y1="1769.5" x2="2158.79" y2="1792.0" stroke-width="3.5"/><line x1="2191.02" y1="3193.4" x2="2191.02" y2="3170.9" stroke-width="3.5"/><line x1="2191.02" y1="1769.5" x2="2191.02" y2="1792.0" stroke-width="3.5"/><line x1="2218.26" y1="3193.4" x2="2218.26" y2="3170.9" stroke-width="3.5"/><line x1="2218.26" y1="1769.5" x2="2218.26" y2="1792.0" stroke-width="3.5"/><line x1="2241.86" y1="3193.4" x2="2241.86" y2="3170.9" stroke-width="3.5"/><line x1="2241.86" y1="1769.5" x2="2241.86" y2="1792.0" stroke-width="3.5"/><line x1="2262.68" y1="3193.4" x2="2262.68" y2="3170.9" stroke-width="3.5"/><line x1="2262.68" y1="1769.5" x2="2262.68" y2="1792.0" stroke-width="3.5"/><line x1="246.5" y1="3159.25" x2="269.0" y2="3159.25" stroke-width="3.5"/><line x1="2281.3" y1="3159.25" x2="2258.8" y2="3159.25" stroke-width="3.5"/><line x1="246.5" y1="3130.37" x2="269.0" y2="3130.37" stroke-width="3.5"/><line x1="2281.3" y1="3130.37" x2="2258.8" y2="3130.37" stroke-width="3.5"/><line x1="246.5" y1="3105.35" x2="269.0" y2="3105.35" stroke-width="3.5"/><line x1="2281.3" y1="3105.35" x2="2258.8" y2="3105.35" stroke-width="3.5"/><line x1="246.5" y1="3083.29" x2="269.0" y2="3083.29" stroke-width="3.5"/><line x1="2281.3" y1="3083.29" x2="2258.8" y2="3083.29" stroke-width="3.5"/><line x1="246.5" y1="3063.55" x2="291.0" y2="3063.55" stroke-width="6.5"/><line x1="2281.3" y1="3063.55" x2="2236.8" y2="3063.55" stroke-width="6.5"/><line x1="246.5" y1="2933.70" x2="269.0" y2="2933.70" stroke-width="3.5"/><line x1="2281.3" y1="2933.70" x2="2258.8" y2="2933.70" stroke-width="3.5"/><line x1="246.5" y1="2857.74" x2="269.0" y2="2857.74" stroke-width="3.5"/><line x1="2281.3" y1="2857.74" x2="2258.8" y2="2857.74" stroke-width="3.5"/><line x1="246.5" y1="2803.85" x2="269.0" y2="2803.85" stroke-width="3.5"/><line x1="2281.3" y1="2803.85" x2="2258.8" y2="2803.85" stroke-width="3.5"/><line x1="246.5" y1="2762.05" x2="269.0" y2="2762.05" stroke-width="3.5"/><line x1="2281.3" y1="2762.05" x2="2258.8" y2="2762.05" stroke-width="3.5"/><line x1="246.5" y1="2727.89" x2="269.0" y2="2727.89" stroke-width="3.5"/><line x1="2281.3" y1="2727.89" x2="2258.8" y2="2727.89" stroke-width="3.5"/><line x1="246.5" y1="2699.02" x2="269.0" y2="2699.02" stroke-width="3.5"/><line x1="2281.3" y1="2699.02" x2="2258.8" y2="2699.02" stroke-width="3.5"/><line x1="246.5" y1="2674.00" x2="269.0" y2="2674.00" stroke-width="3.5"/><line x1="2281.3" y1="2674.00" x2="2258.8" y2="2674.00" stroke-width="3.5"/><line x1="246.5" y1="2651.94" x2="269.0" y2="2651.94" stroke-width="3.5"/><line x1="2281.3" y1="2651.94" x2="2258.8" y2="2651.94" stroke-width="3.5"/><line x1="246.5" y1="2632.20" x2="291.0" y2="2632.20" stroke-width="6.5"/><line x1="2281.3" y1="2632.20" x2="2236.8" y2="2632.20" stroke-width="6.5"/><line x1="246.5" y1="2502.35" x2="269.0" y2="2502.35" stroke-width="3.5"/><line x1="2281.3" y1="2502.35" x2="2258.8" y2="2502.35" stroke-width="3.5"/><line x1="246.5" y1="2426.39" x2="269.0" y2="2426.39" stroke-width="3.5"/><line x1="2281.3" y1="2426.39" x2="2258.8" y2="2426.39" stroke-width="3.5"/><line x1="246.5" y1="2372.50" x2="269.0" y2="2372.50" stroke-width="3.5"/><line x1="2281.3" y1="2372.50" x2="2258.8" y2="2372.50" stroke-width="3.5"/><line x1="246.5" y1="2330.70" x2="269.0" y2="2330.70" stroke-width="3.5"/><line x1="2281.3" y1="2330.70" x2="2258.8" y2="2330.70" stroke-width="3.5"/><line x1="246.5" y1="2296.54" x2="269.0" y2="2296.54" stroke-width="3.5"/><line x1="2281.3" y1="2296.54" x2="2258.8" y2="2296.54" stroke-width="3.5"/><line x1="246.5" y1="2267.67" x2="269.0" y2="2267.67" stroke-width="3.5"/><line x1="2281.3" y1="2267.67" x2="2258.8" y2="2267.67" stroke-width="3.5"/><line x1="246.5" y1="2242.65" x2="269.0" y2="2242.65" stroke-width="3.5"/><line x1="2281.3" y1="2242.65" x2="2258.8" y2="2242.65" stroke-width="3.5"/><line x1="246.5" y1="2220.59" x2="269.0" y2="2220.59" stroke-width="3.5"/><line x1="2281.3" y1="2220.59" x2="2258.8" y2="2220.59" stroke-width="3.5"/><line x1="246.5" y1="2200.85" x2="291.0" y2="2200.85" stroke-width="6.5"/><line x1="2281.3" y1="2200.85" x2="2236.8" y2="2200.85" stroke-width="6.5"/><line x1="246.5" y1="2071.00" x2="269.0" y2="2071.00" stroke-width="3.5"/><line x1="2281.3" y1="2071.00" x2="2258.8" y2="2071.00" stroke-width="3.5"/><line x1="246.5" y1="1995.04" x2="269.0" y2="1995.04" stroke-width="3.5"/><line x1="2281.3" y1="1995.04" x2="2258.8" y2="1995.04" stroke-width="3.5"/><line x1="246.5" y1="1941.15" x2="269.0" y2="1941.15" stroke-width="3.5"/><line x1="2281.3" y1="1941.15" x2="2258.8" y2="1941.15" stroke-width="3.5"/><line x1="246.5" y1="1899.35" x2="269.0" y2="1899.35" stroke-width="3.5"/><line x1="2281.3" y1="1899.35" x2="2258.8" y2="1899.35" stroke-width="3.5"/><line x1="246.5" y1="1865.19" x2="269.0" y2="1865.19" stroke-width="3.5"/><line x1="2281.3" y1="1865.19" x2="2258.8" y2="1865.19" stroke-width="3.5"/><line x1="246.5" y1="1836.32" x2="269.0" y2="1836.32" stroke-width="3.5"/><line x1="2281.3" y1="1836.32" x2="2258.8" y2="1836.32" stroke-width="3.5"/><line x1="246.5" y1="1811.30" x2="269.0" y2="1811.30" stroke-width="3.5"/><line x1="2281.3" y1="1811.30" x2="2258.8" y2="1811.30" stroke-width="3.5"/><line x1="246.5" y1="1789.24" x2="269.0" y2="1789.24" stroke-width="3.5"/><line x1="2281.3" y1="1789.24" x2="2258.8" y2="1789.24" stroke-width="3.5"/></g>
<rect x="246.5" y="1769.5" width="2034.8" height="1423.9" fill="none" stroke="#000" stroke-width="7"/>
<g font-family="Liberation Serif, serif" font-size="75"><text x="228.5" y="3103.1" text-anchor="end">10<tspan dy="-45" font-size="51">0</tspan></text><text x="228.5" y="2671.7" text-anchor="end">10<tspan dy="-45" font-size="51">1</tspan></text><text x="228.5" y="2240.4" text-anchor="end">10<tspan dy="-45" font-size="51">2</tspan></text><text x="228.5" y="1809.0" text-anchor="end">10<tspan dy="-45" font-size="51">3</tspan></text><text x="250.0" y="3295" text-anchor="middle">10<tspan dy="-45.5" font-size="51">-1</tspan></text><text x="657.0" y="3295" text-anchor="middle">10<tspan dy="-45.5" font-size="51">0</tspan></text><text x="1063.9" y="3295" text-anchor="middle">10<tspan dy="-45.5" font-size="51">1</tspan></text><text x="1470.9" y="3295" text-anchor="middle">10<tspan dy="-45.5" font-size="51">2</tspan></text><text x="1877.8" y="3295" text-anchor="middle">10<tspan dy="-45.5" font-size="51">3</tspan></text><text x="2284.8" y="3295" text-anchor="middle">10<tspan dy="-45.5" font-size="51">4</tspan></text></g>
<text font-family="Liberation Serif, serif" font-size="74.3" x="1266.9" y="3368.5" text-anchor="middle">time [ns]</text>
<text font-family="Liberation Serif, serif" font-size="74.2" transform="translate(95.5,2480.4) rotate(-90)" text-anchor="middle">Fluctuation function [a.u.]</text>
<text font-family="Liberation Serif, serif" font-size="84" font-weight="bold" transform="translate(307.4,1911) scale(1.033,0.965)">(b)</text>
<g font-family="Liberation Serif, serif" font-size="56.8"><text x="1078.4" y="2214.8">H=0.67</text><text x="525.6" y="2668.4" font-size="55.3">H=1</text></g>
<rect x="1563" y="2827" width="585.7" height="237" fill="#fff" stroke="#000" stroke-width="2.8"/>
<rect x="1605.1" y="2854.1" width="38.3" height="38.3" fill="#0000ff"/>
<circle cx="1624" cy="2945" r="21.9" fill="#000"/>
<polygon points="1623.3,2991.5 1600,3032.1 1646.6,3032.1" fill="#ff0000"/>
<g font-family="Liberation Serif, serif" font-size="74"><text x="1704.5" y="2897.9">HV = 4.87 kV</text><text x="1704.5" y="2969.8">HV = 5.48 kV</text><text x="1704.5" y="3042">HV = 6.39 kV</text></g>
</svg></body></html>
